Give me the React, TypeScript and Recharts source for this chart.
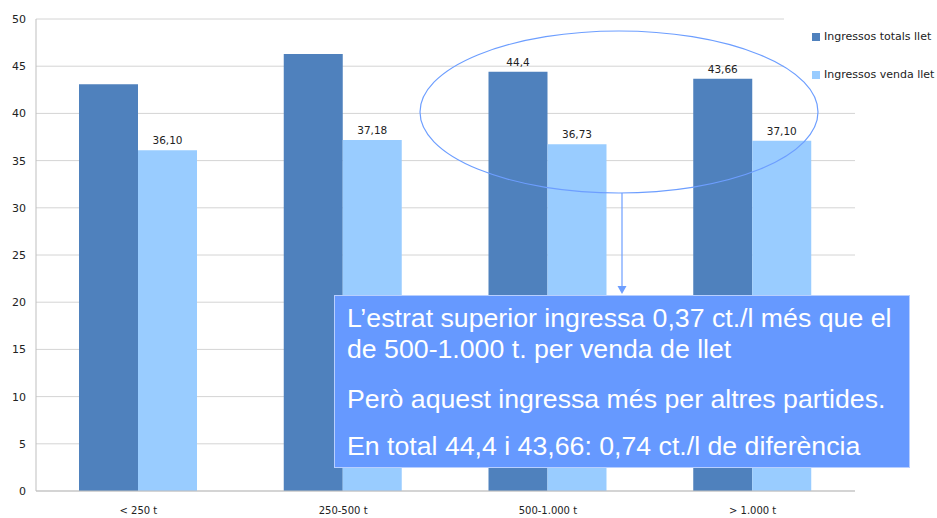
import React from 'react';
import { BarChart, Bar, XAxis, YAxis, CartesianGrid, LabelList } from 'recharts';

const CATEGORIES = ['< 250 t', '250-500 t', '500-1.000 t', '> 1.000 t'];
const TOTALS = [43.1, 46.3, 44.4, 43.66];
const SALES = [36.1, 37.18, 36.73, 37.1];
const TOTAL_LABELS = ['', '', '44,4', '43,66'];
const SALES_LABELS = ['36,10', '37,18', '36,73', '37,10'];
const SERIES_NAMES = ['Ingressos totals llet', 'Ingressos venda llet'];
const Y_TICKS = [0, 5, 10, 15, 20, 25, 30, 35, 40, 45, 50];
const NOTE_LINES = [
  'L\u2019estrat superior ingressa 0,37 ct./l més que el',
  'de 500-1.000 t. per venda de llet',
  'Però aquest ingressa més per altres partides.',
  'En total 44,4 i 43,66: 0,74 ct./l de diferència',
];
const NOTE_BASELINES = [327, 358, 408, 455];

const DARK = '#4f81bd';
const LIGHT = '#99ccff';
const SERIES_COLORS = [DARK, LIGHT];
const FONT = '"DejaVu Sans", Verdana, sans-serif';

const data = CATEGORIES.map((cat, i) => ({
  cat,
  total: TOTALS[i],
  sales: SALES[i],
  totalLabel: TOTAL_LABELS[i],
  salesLabel: SALES_LABELS[i],
}));

// legend box sits over the top-right corner of the plot, like in the slide
const LegendBox = () => (
  <div style={{ position: 'absolute', left: 784, top: 8, width: 153, height: 86, background: '#fff', zIndex: 1 }}>
    {SERIES_NAMES.map((name, i) => (
      <div
        key={name}
        style={{
          position: 'absolute',
          left: 28,
          top: 22 + i * 38,
          display: 'flex',
          alignItems: 'center',
          fontFamily: FONT,
          fontSize: 11,
          lineHeight: '14px',
          color: '#222',
          whiteSpace: 'nowrap',
        }}
      >
        <span style={{ width: 8, height: 8, background: SERIES_COLORS[i], marginRight: 4, display: 'inline-block' }} />
        {name}
      </div>
    ))}
  </div>
);

export default function App() {
  return (
    <div style={{ position: 'absolute', left: 0, top: 0, width: 937, height: 518, background: '#fff' }}>
      <BarChart
        width={937}
        height={518}
        data={data}
        margin={{ top: 19, right: 82, bottom: 0, left: 0 }}
        barCategoryGap="21%"
        barGap={0}
      >
        <CartesianGrid vertical={false} stroke="#d4d4d4" />
        <XAxis
          dataKey="cat"
          height={27}
          tickLine={false}
          axisLine={{ stroke: '#bfbfbf' }}
          tick={{ fontSize: 10, fill: '#222', fontFamily: FONT }}
          tickMargin={10}
        />
        <YAxis
          width={36}
          domain={[0, 50]}
          ticks={Y_TICKS}
          tickLine={false}
          axisLine={{ stroke: '#bfbfbf' }}
          tick={{ fontSize: 11, fill: '#222', fontFamily: FONT }}
          tickMargin={4}
          interval={0}
        />
        <YAxis
          yAxisId="right"
          orientation="right"
          width={0}
          domain={[0, 50]}
          tick={false}
          tickLine={false}
          axisLine={{ stroke: '#bfbfbf' }}
        />
        <Bar dataKey="total" name={SERIES_NAMES[0]} fill={DARK} isAnimationActive={false}>
          <LabelList dataKey="totalLabel" position="top" offset={6} style={{ fontSize: 10.5, fill: '#222', fontFamily: FONT }} />
        </Bar>
        <Bar dataKey="sales" name={SERIES_NAMES[1]} fill={LIGHT} isAnimationActive={false}>
          <LabelList dataKey="salesLabel" position="top" offset={6} style={{ fontSize: 10.5, fill: '#222', fontFamily: FONT }} />
        </Bar>
      </BarChart>
      <LegendBox />
      <svg
        width={937}
        height={518}
        style={{ position: 'absolute', left: 0, top: 0, pointerEvents: 'none', zIndex: 2 }}
      >
        <ellipse cx={619} cy={112} rx={199} ry={81} fill="none" stroke="#6d9eff" strokeWidth={1.2} />
        <line x1={622} y1={193} x2={622} y2={287} stroke="#6d9eff" strokeWidth={1.2} />
        <polygon points="617.5,286 626.5,286 622,294" fill="#6d9eff" />
        <rect x={334.5} y={295.5} width={575} height={172} fill="#6699ff" stroke="#b8cfff" strokeWidth={1} />
        {NOTE_LINES.map((line, i) => (
          <text
            key={i}
            x={347}
            y={NOTE_BASELINES[i]}
            fill="#fff"
            fontSize={26.7}
            fontFamily='"Liberation Sans", Arial, sans-serif'
          >
            {line}
          </text>
        ))}
      </svg>
    </div>
  );
}
